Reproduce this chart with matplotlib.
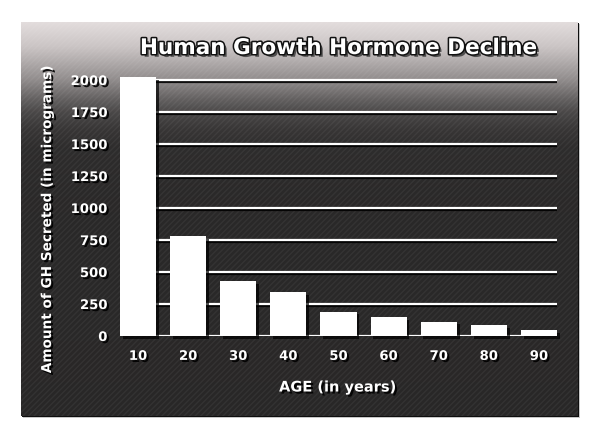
import numpy as np
import matplotlib
matplotlib.use('agg')
import matplotlib.pyplot as plt
import matplotlib.patheffects as pe
from matplotlib.patches import Rectangle

# data
ages = ["10", "20", "30", "40", "50", "60", "70", "80", "90"]
gh_amount = [2020, 780, 430, 340, 190, 150, 112, 88, 48]
y_ticks = [0, 250, 500, 750, 1000, 1250, 1500, 1750, 2000]

title_text = "Human Growth Hormone Decline"
x_label = "AGE (in years)"
y_label = "Amount of GH Secreted (in micrograms)"

W, H = 600, 439
fig = plt.figure(figsize=(W / 100, H / 100), dpi=100)
fig.patch.set_facecolor("white")

# panel background with gradient
px0, px1, py0, py1 = 21, 578, 23, 417
bg = fig.add_axes([0, 0, 1, 1])
bg.set_xlim(0, W)
bg.set_ylim(H, 0)
bg.axis("off")
# shadow around panel
bg.add_patch(Rectangle((px0 + 2, py0 + 2), px1 - px0, py1 - py0, facecolor="#c8c8c8", edgecolor="none"))
bg.add_patch(Rectangle((px0 + 1, py0 + 1), px1 - px0, py1 - py0, facecolor="#0e0e0e", edgecolor="none"))
ys = np.linspace(0, 1, 400)
stops_y = [0.0, 0.063, 0.145, 0.195, 0.228, 0.27, 0.32, 0.45, 1.0]
stops_v = [0.89, 0.79, 0.57, 0.39, 0.29, 0.22, 0.18, 0.165, 0.16]
vals = np.interp(ys, stops_y, stops_v)
grad = np.repeat(vals[:, None], 2, axis=1)
rgb = np.dstack([grad, grad * 0.97, grad * 0.97])
bg.imshow(rgb, extent=(px0, px1, py1, py0), aspect="auto", interpolation="bilinear", zorder=1)
bg.add_patch(Rectangle((px0, py0), px1 - px0, py1 - py0, facecolor="none", edgecolor=(1, 1, 1, 0.05),
                       hatch="//////", linewidth=0, zorder=2))

# main axes
ax = fig.add_axes([120 / W, 1 - 337 / H, 437 / W, (337 - 74.6) / H])
ax.set_facecolor("none")
x = np.arange(len(ages))
shadow = [pe.SimplePatchShadow(offset=(2, -2), shadow_rgbFace="black", alpha=0.7), pe.Normal()]
for yv in y_ticks:
    ax.axhline(yv, color="white", lw=1.6, zorder=1,
               path_effects=[pe.SimpleLineShadow(offset=(1, -1.5), shadow_color="black", alpha=0.9), pe.Normal()])
bars = ax.bar(x, gh_amount, width=0.72, color="white", edgecolor="none", zorder=3)
for b in bars:
    b.set_path_effects(shadow)
    b.set_clip_on(False)
ax.set_xlim(-0.36, len(ages) - 1 + 0.36)
ax.set_ylim(0, 2050)
for s in ax.spines.values():
    s.set_visible(False)
ax.tick_params(length=0, colors="white")
ax.set_yticks(y_ticks)
ax.set_xticks(x)
ax.set_xticklabels(ages)
txt_fx = [pe.withSimplePatchShadow(offset=(1.5, -1.5), shadow_rgbFace="black", alpha=0.9)]
for lab in ax.get_yticklabels() + ax.get_xticklabels():
    lab.set_fontsize(9.5)
    lab.set_fontweight("bold")
    lab.set_path_effects(txt_fx)
ax.tick_params(axis="y", pad=9)
ax.tick_params(axis="x", pad=10)

fig.text(338 / W, 1 - 388 / H, x_label, color="white", fontsize=10.5, fontweight="bold",
         ha="center", va="center", path_effects=txt_fx)
fig.text(47 / W, 1 - 220 / H, y_label, color="white", fontsize=9.8, fontweight="bold",
         ha="center", va="center", rotation=90, path_effects=txt_fx)
fig.text(338 / W, 1 - 49 / H, title_text, color="white", fontsize=15.5, fontweight="bold",
         ha="center", va="center",
         path_effects=[pe.SimplePatchShadow(offset=(2, -2), shadow_rgbFace="#333333", alpha=0.8),
                       pe.Stroke(linewidth=2.2, foreground="#111111"), pe.Normal()])

plt.savefig("out.png", dpi=100)
plt.close(fig)
